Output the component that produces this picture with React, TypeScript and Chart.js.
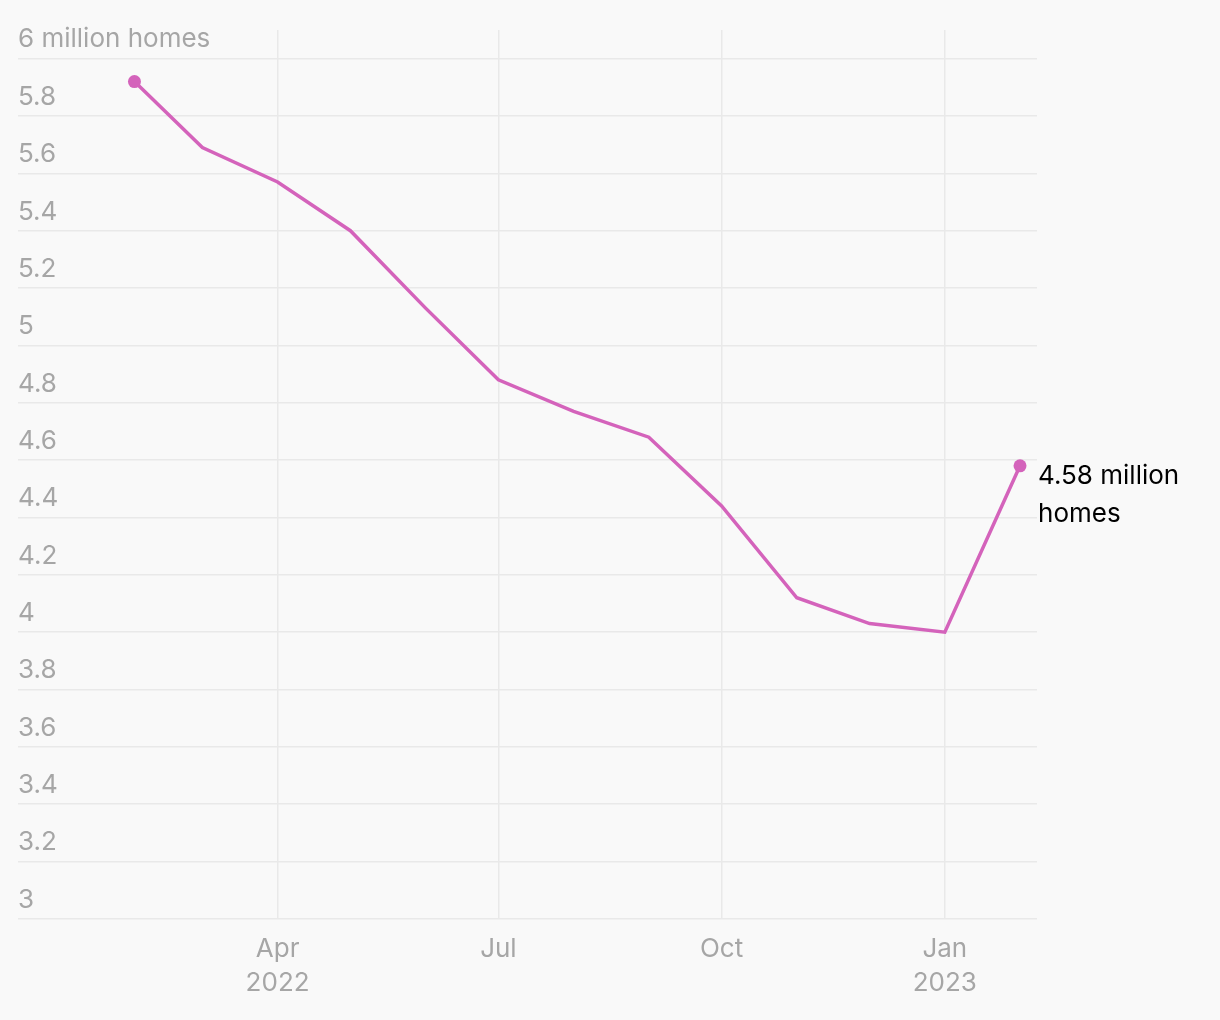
import React, { useEffect, useRef } from "react";
import { Chart, registerables } from "chart.js";

Chart.register(...registerables);

const months = [
  "2022-02-01", "2022-03-01", "2022-04-01", "2022-05-01", "2022-06-01", "2022-07-01",
  "2022-08-01", "2022-09-01", "2022-10-01", "2022-11-01", "2022-12-01", "2023-01-01", "2023-02-01",
];
const sales = [5.92, 5.69, 5.57, 5.40, 5.13, 4.88, 4.77, 4.68, 4.44, 4.12, 4.03, 4.00, 4.58];

const xTickDates = ["2022-04-01", "2022-07-01", "2022-10-01", "2023-01-01"];
const xTickLabels: string[][] = [["Apr", "2022"], ["Jul"], ["Oct"], ["Jan", "2023"]];
const yTicks = [3, 3.2, 3.4, 3.6, 3.8, 4, 4.2, 4.4, 4.6, 4.8, 5, 5.2, 5.4, 5.6, 5.8, 6];
const annotationLines = ["4.58 million", "homes"];

const FONT = "Inter, 'Noto Sans', sans-serif";
const LINE = "#d463bb";
const GRID = "#e9e9e9";
const TICK = "#a6a6a6";

const dayOf = (s: string) => {
  const [y, m, d] = s.split("-").map(Number);
  return (Date.UTC(y, m - 1, d) - Date.UTC(2022, 0, 1)) / 86400000;
};

const annotationPlugin = {
  id: "lastLabel",
  afterDatasetsDraw(chart: any) {
    const meta = chart.getDatasetMeta(0);
    const pt = meta.data[meta.data.length - 1];
    if (!pt) return;
    const ctx = chart.ctx;
    ctx.save();
    ctx.font = `26px ${FONT}`;
    ctx.fillStyle = "#000";
    ctx.textAlign = "left";
    ctx.textBaseline = "middle";
    annotationLines.forEach((t, i) => ctx.fillText(t, pt.x + 18, pt.y + 10 + i * 38));
    ctx.restore();
  },
};

export default function App() {
  const ref = useRef<HTMLCanvasElement>(null);
  useEffect(() => {
    document.body.style.margin = "0";
    document.body.style.background = "#f9f9f9";
    const n = sales.length;
    const chart = new Chart(ref.current!, {
      type: "line",
      data: {
        datasets: [
          {
            data: months.map((m, i) => ({ x: dayOf(m), y: sales[i] })),
            borderColor: LINE,
            backgroundColor: LINE,
            borderWidth: 3.5,
            tension: 0,
            pointRadius: sales.map((_, i) => (i === 0 || i === n - 1 ? 6.5 : 0)),
            pointBackgroundColor: LINE,
            pointBorderWidth: 0,
            clip: false as any,
          },
        ],
      },
      options: {
        animation: false,
        responsive: false,
        layout: { padding: { left: 18, right: 183, top: 30, bottom: 7 } },
        plugins: { legend: { display: false }, tooltip: { enabled: false } },
        scales: {
          x: {
            type: "linear",
            min: -17,
            max: 403,
            border: { display: false },
            grid: { color: GRID, lineWidth: 1.5, drawTicks: false },
            afterBuildTicks: (scale: any) => {
              scale.ticks = xTickDates.map((d) => ({ value: dayOf(d) }));
            },
            ticks: {
              padding: 13,
              color: TICK,
              font: { family: FONT, size: 26, lineHeight: 1.31 },
              maxRotation: 0,
              autoSkip: false,
              callback: (v: any) => {
                const i = xTickDates.findIndex((d) => dayOf(d) === v);
                return i >= 0 ? xTickLabels[i] : "";
              },
            },
          },
          y: {
            type: "linear",
            min: 3,
            max: 6.1,
            border: { display: false },
            grid: { color: GRID, lineWidth: 1.5, drawTicks: false },
            afterBuildTicks: (scale: any) => {
              scale.ticks = yTicks.map((v) => ({ value: v }));
            },
            ticks: {
              mirror: true,
              padding: 0,
              labelOffset: -19,
              color: TICK,
              font: { family: FONT, size: 26 },
              crossAlign: "near",
              callback: (v: any) => (Math.abs(v - 6) < 1e-9 ? "6 million homes" : String(Math.round(v * 10) / 10)),
            },
          },
        },
      },
      plugins: [annotationPlugin],
    });
    return () => chart.destroy();
  }, []);
  return <canvas ref={ref} width={1220} height={1020} style={{ display: "block" }} />;
}
